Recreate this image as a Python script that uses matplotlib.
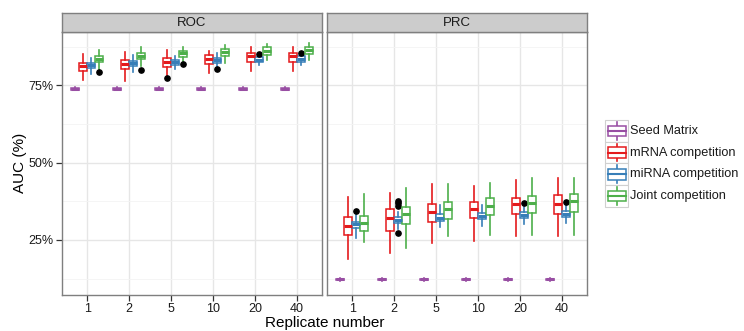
import matplotlib
matplotlib.use("Agg")
import matplotlib.pyplot as plt
from matplotlib.patches import Rectangle
from matplotlib.ticker import FuncFormatter, FixedLocator

plt.rcParams['font.family'] = ['Liberation Sans', 'DejaVu Sans']

replicates = ["1", "2", "5", "10", "20", "40"]
series = ["Seed Matrix", "mRNA competition", "miRNA competition", "Joint competition"]
colors = ["#984EA3", "#E41A1C", "#377EB8", "#4DAF4A"]
panels = ["ROC", "PRC"]

# ---- ROC box statistics (AUC, %) ----
roc_seed_med = [73.8, 73.8, 73.8, 73.8, 73.8, 73.8]
roc_seed_q1 = [73.6, 73.6, 73.6, 73.6, 73.6, 73.6]
roc_seed_q3 = [74.0, 74.0, 74.0, 74.0, 74.0, 74.0]
roc_seed_lo = [73.3, 73.3, 73.3, 73.3, 73.3, 73.3]
roc_seed_hi = [74.3, 74.3, 74.3, 74.3, 74.3, 74.3]

roc_mrna_med = [81.3, 81.9, 82.4, 83.4, 84.6, 84.6]
roc_mrna_q1 = [79.6, 80.2, 81.0, 81.9, 82.4, 82.6]
roc_mrna_q3 = [82.3, 83.0, 83.7, 84.8, 85.3, 85.5]
roc_mrna_lo = [76.7, 76.5, 77.8, 78.9, 79.7, 79.7]
roc_mrna_hi = [85.1, 85.7, 86.4, 86.2, 87.3, 87.3]

roc_mirna_med = [81.6, 82.1, 82.4, 83.0, 83.2, 83.4]
roc_mirna_q1 = [80.7, 81.1, 81.6, 82.1, 82.4, 82.6]
roc_mirna_q3 = [82.3, 82.9, 83.2, 83.7, 84.1, 84.3]
roc_mirna_lo = [78.6, 79.4, 80.2, 81.0, 81.5, 81.5]
roc_mirna_hi = [83.7, 84.8, 84.5, 85.3, 85.0, 85.2]

roc_joint_med = [83.5, 84.6, 85.3, 85.7, 86.1, 86.4]
roc_joint_q1 = [82.4, 83.4, 84.1, 84.6, 84.8, 85.1]
roc_joint_q3 = [84.6, 85.3, 85.9, 86.7, 87.3, 87.5]
roc_joint_lo = [80.2, 81.2, 82.4, 82.3, 83.0, 83.2]
roc_joint_hi = [86.4, 87.3, 87.5, 88.0, 88.3, 88.6]

# outliers: (series index, replicate index, value)
roc_fliers = [(3, 0, 79.3), (3, 1, 79.9), (1, 2, 77.4), (3, 2, 81.8),
              (2, 3, 80.2), (2, 4, 85.1), (2, 5, 85.3)]

# ---- PRC box statistics (AUC, %) ----
prc_seed_med = [12.3, 12.3, 12.3, 12.3, 12.3, 12.3]
prc_seed_q1 = [12.1, 12.1, 12.1, 12.1, 12.1, 12.1]
prc_seed_q3 = [12.5, 12.5, 12.5, 12.5, 12.5, 12.5]
prc_seed_lo = [11.8, 11.8, 11.8, 11.8, 11.8, 11.8]
prc_seed_hi = [12.8, 12.8, 12.8, 12.8, 12.8, 12.8]

prc_mrna_med = [29.5, 32.0, 33.9, 35.0, 36.5, 36.6]
prc_mrna_q1 = [26.6, 28.0, 30.7, 32.2, 33.3, 33.3]
prc_mrna_q3 = [32.5, 34.9, 36.5, 37.4, 38.7, 39.5]
prc_mrna_lo = [18.8, 20.7, 23.9, 24.7, 26.3, 26.3]
prc_mrna_hi = [38.8, 40.3, 43.1, 42.4, 44.4, 44.9]

prc_mirna_med = [30.0, 31.4, 32.2, 32.7, 33.1, 33.4]
prc_mirna_q1 = [28.9, 30.4, 31.1, 31.7, 32.0, 32.3]
prc_mirna_q3 = [30.9, 32.5, 33.3, 33.8, 33.9, 34.3]
prc_mirna_lo = [25.7, 28.4, 29.1, 29.6, 30.0, 30.4]
prc_mirna_hi = [33.1, 34.1, 36.3, 36.3, 35.7, 36.3]

prc_joint_med = [30.4, 33.3, 34.9, 36.1, 37.0, 37.6]
prc_joint_q1 = [28.0, 30.1, 31.7, 33.1, 33.8, 34.1]
prc_joint_q3 = [32.8, 35.5, 37.4, 38.5, 39.3, 39.8]
prc_joint_lo = [24.4, 22.5, 26.4, 26.6, 26.6, 26.6]
prc_joint_hi = [39.7, 41.7, 43.1, 43.3, 44.9, 44.9]

prc_fliers = [(2, 0, 34.4), (2, 1, 37.6), (2, 1, 36.8), (2, 1, 36.0), (2, 1, 27.1),
              (2, 4, 37.0), (2, 5, 37.2)]

yticks = [25, 50, 75]
yminor = [12.5, 37.5, 62.5, 87.5]

panel_data = {
    "ROC": ([(roc_seed_med, roc_seed_q1, roc_seed_q3, roc_seed_lo, roc_seed_hi),
             (roc_mrna_med, roc_mrna_q1, roc_mrna_q3, roc_mrna_lo, roc_mrna_hi),
             (roc_mirna_med, roc_mirna_q1, roc_mirna_q3, roc_mirna_lo, roc_mirna_hi),
             (roc_joint_med, roc_joint_q1, roc_joint_q3, roc_joint_lo, roc_joint_hi)],
            roc_fliers),
    "PRC": ([(prc_seed_med, prc_seed_q1, prc_seed_q3, prc_seed_lo, prc_seed_hi),
             (prc_mrna_med, prc_mrna_q1, prc_mrna_q3, prc_mrna_lo, prc_mrna_hi),
             (prc_mirna_med, prc_mirna_q1, prc_mirna_q3, prc_mirna_lo, prc_mirna_hi),
             (prc_joint_med, prc_joint_q1, prc_joint_q3, prc_joint_lo, prc_joint_hi)],
            prc_fliers),
}

W, H = 744, 331
fig = plt.figure(figsize=(W / 100, H / 100), dpi=100)
fig.patch.set_facecolor("white")

def px_axes(x0, y0, x1, y1):
    return fig.add_axes([x0 / W, 1 - y1 / H, (x1 - x0) / W, (y1 - y0) / H])

border = "#7F7F7F"
panel_x = [(62, 322), (327, 587)]
top, bottom = 32, 295
dodge = 0.1875
offsets = [(-1.5 + k) * dodge for k in range(4)]
bw = 0.19

for pi, name in enumerate(panels):
    x0, x1 = panel_x[pi]
    ax = px_axes(x0, top, x1, bottom)
    stats_list, fliers = panel_data[name]
    for si, (med, q1, q3, lo, hi) in enumerate(stats_list):
        stats = []
        for gi in range(len(replicates)):
            fl = [v for (s, g, v) in fliers if s == si and g == gi]
            stats.append(dict(med=med[gi], q1=q1[gi], q3=q3[gi],
                              whislo=lo[gi], whishi=hi[gi], fliers=fl))
        pos = [gi + 1 + offsets[si] for gi in range(len(replicates))]
        c = colors[si]
        ax.bxp(stats, positions=pos, widths=bw, showcaps=False, patch_artist=True,
               boxprops=dict(facecolor="white", edgecolor=c, linewidth=1.1),
               medianprops=dict(color=c, linewidth=2.2, solid_capstyle="butt"),
               whiskerprops=dict(color=c, linewidth=1.2),
               flierprops=dict(marker="o", markerfacecolor="black",
                               markeredgecolor="black", markersize=3.8, linestyle="none"),
               manage_ticks=False, zorder=3)
    ax.set_xlim(0.4, len(replicates) + 0.6)
    ax.set_ylim(7.2, 92.2)
    ax.set_xticks(range(1, len(replicates) + 1))
    ax.set_xticklabels(replicates)
    ax.yaxis.set_major_locator(FixedLocator(yticks))
    ax.yaxis.set_minor_locator(FixedLocator(yminor))
    ax.yaxis.set_major_formatter(FuncFormatter(lambda v, p: f"{v:.0f}%"))
    ax.grid(True, which="major", color="#E6E6E6", linewidth=1.0, zorder=0)
    ax.grid(True, which="minor", axis="y", color="#F4F4F4", linewidth=0.6, zorder=0)
    ax.set_axisbelow(True)
    for sp in ax.spines.values():
        sp.set_color(border)
        sp.set_linewidth(1.0)
    ax.tick_params(axis="both", which="major", length=4, width=0.9, color="#333333",
                   labelsize=9, labelcolor="#1A1A1A", pad=2)
    ax.tick_params(axis="y", which="minor", length=0)
    if pi == 1:
        ax.tick_params(axis="y", which="both", left=False, labelleft=False)
    # strip
    sx = px_axes(x0, 12.7, x1, top)
    sx.set_xticks([]); sx.set_yticks([])
    sx.set_facecolor("#CCCCCC")
    for sp in sx.spines.values():
        sp.set_color(border)
        sp.set_linewidth(1.0)
    sx.text(0.5, 0.45, name, ha="center", va="center", fontsize=9.5,
            color="#1A1A1A", transform=sx.transAxes)

fig.text(324.5 / W, 1 - 323 / H, "Replicate number", ha="center", va="center",
         fontsize=11, color="black")
fig.text(20 / W, 1 - 163 / H, "AUC (%)", ha="center", va="center",
         rotation=90, fontsize=11, color="black")

# legend (boxplot glyph keys)
lg = px_axes(600, 115, 744, 212)
lg.set_xlim(600, 744)
lg.set_ylim(212, 115)
lg.axis("off")
key_h = 21.7
for si, name in enumerate(series):
    ky = 120 + si * key_h
    lg.add_patch(Rectangle((605, ky), 23, key_h, facecolor="white",
                           edgecolor="#D0D0D0", linewidth=0.8))
    cx = 616.5
    c = colors[si]
    lg.plot([cx, cx], [ky + 2, ky + key_h - 2], color=c, lw=1.2)
    lg.add_patch(Rectangle((607.5, ky + 5.5), 18, key_h - 11, facecolor="white",
                           edgecolor=c, linewidth=1.1, zorder=3))
    lg.plot([607.5, 625.5], [ky + key_h / 2, ky + key_h / 2], color=c, lw=1.5, zorder=4)
    lg.text(630, ky + key_h / 2, name, ha="left", va="center", fontsize=9.2,
            color="#1A1A1A")

fig.savefig("out.png", dpi=100)
